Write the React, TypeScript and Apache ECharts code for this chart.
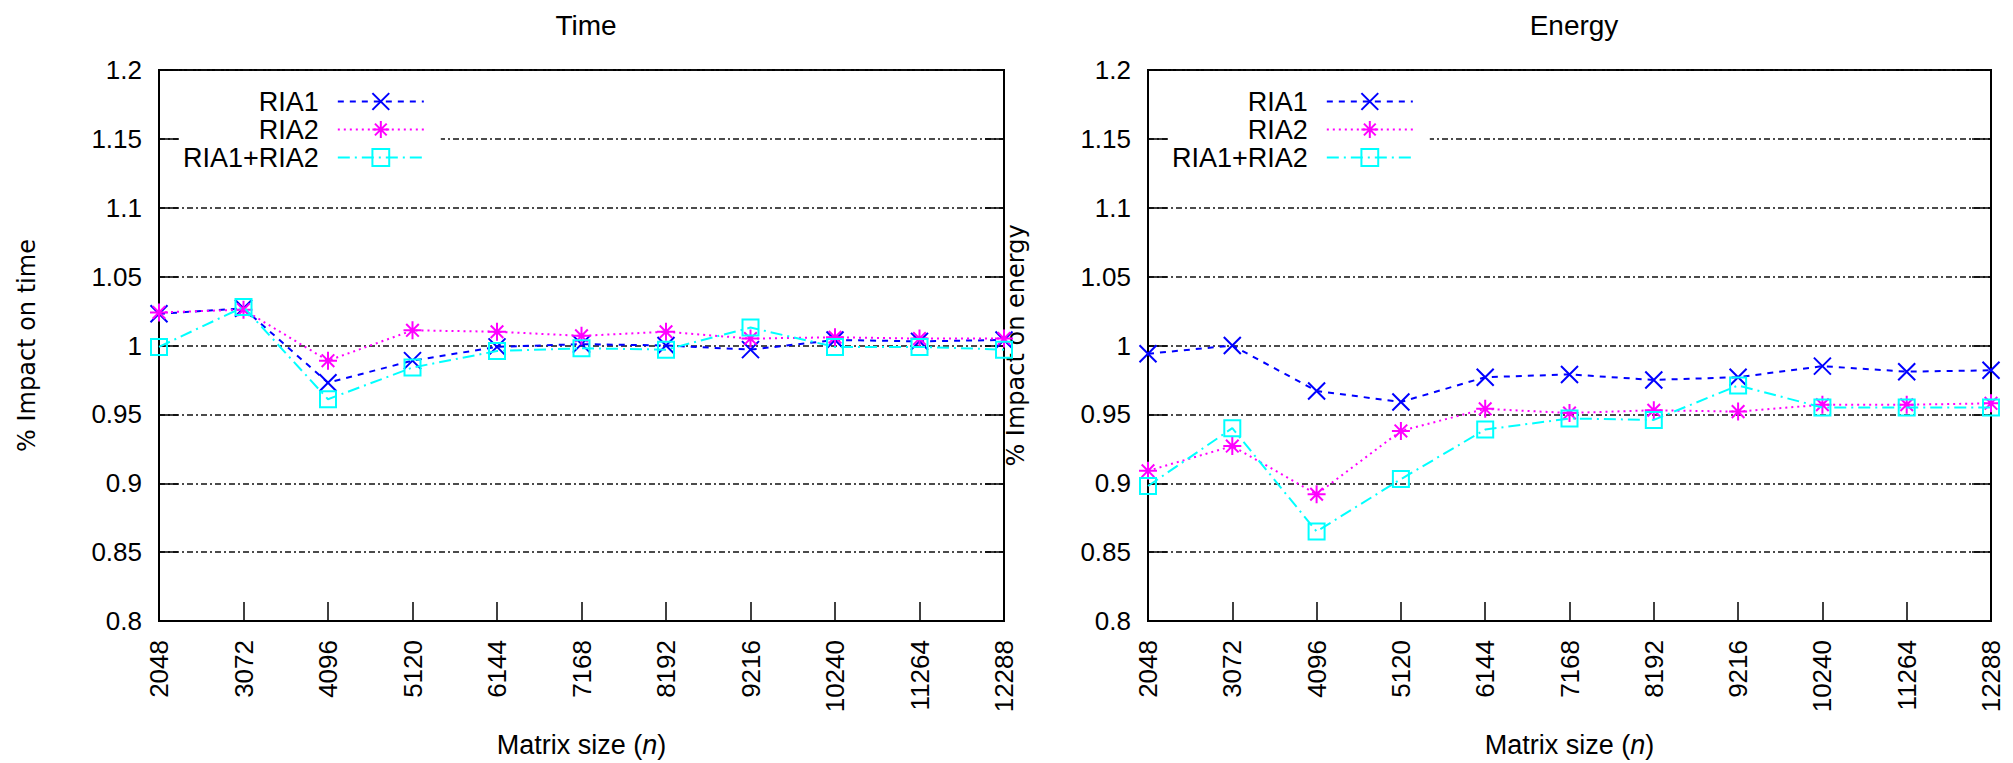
import React, { useEffect, useRef } from 'react';
import * as echarts from 'echarts';

const categories = ['2048', '3072', '4096', '5120', '6144', '7168', '8192', '9216', '10240', '11264', '12288'];
const seriesNames = ['RIA1', 'RIA2', 'RIA1+RIA2'];

const timeRIA1 = [1.023, 1.027, 0.973, 0.989, 0.999, 1.001, 1.0, 0.997, 1.004, 1.003, 1.004];
const timeRIA2 = [1.024, 1.026, 0.989, 1.011, 1.010, 1.007, 1.010, 1.005, 1.006, 1.005, 1.005];
const timeBoth = [0.999, 1.028, 0.961, 0.984, 0.996, 0.998, 0.997, 1.013, 0.999, 0.999, 0.997];

const energyRIA1 = [0.994, 1.0, 0.967, 0.959, 0.977, 0.979, 0.975, 0.977, 0.985, 0.981, 0.982];
const energyRIA2 = [0.909, 0.927, 0.892, 0.938, 0.954, 0.951, 0.953, 0.952, 0.957, 0.957, 0.958];
const energyBoth = [0.898, 0.940, 0.865, 0.903, 0.939, 0.947, 0.946, 0.971, 0.955, 0.955, 0.955];

const Y_MIN = 0.8;
const Y_MAX = 1.2;
const Y_STEP = 0.05;

const COLORS = ['#0000ff', '#ff00ff', '#00ffff'];
const DASHES: number[][] = [[6, 6], [2, 4], [12, 5, 2, 5]];
const SYMBOLS = [
  'path://M0,0L10,10M10,0L0,10',
  'path://M5,0L5,10M0,5L10,5M1.5,1.5L8.5,8.5M8.5,1.5L1.5,8.5',
  'path://M0,0L10,0L10,10L0,10Z',
];
const SYMBOL_SIZES = [17, 18, 16];

const TICK_FONT = 'Liberation Sans';

function makeSeries(values: number[][], axisIdx: number) {
  return values.map((vals, i) => ({
    type: 'line',
    name: seriesNames[i],
    xAxisIndex: axisIdx,
    yAxisIndex: axisIdx * 2,
    data: vals,
    symbol: SYMBOLS[i],
    symbolSize: SYMBOL_SIZES[i],
    showAllSymbol: true,
    color: COLORS[i],
    lineStyle: { color: COLORS[i], width: 2, type: DASHES[i] },
    itemStyle: { color: 'rgba(0,0,0,0)', borderColor: COLORS[i], borderWidth: 2 },
    z: 3 + i,
  }));
}

function xAxisFor(gridIndex: number) {
  return {
    type: 'category',
    gridIndex,
    data: categories,
    boundaryGap: false,
    axisLine: { show: true, lineStyle: { color: '#000', width: 2 } },
    axisTick: { show: true, inside: true, length: 19, interval: 0, lineStyle: { color: '#000', width: 1.5 } },
    axisLabel: { rotate: 90, margin: 19, interval: 0, fontSize: 26, fontFamily: TICK_FONT, color: '#000' },
    splitLine: { show: false },
    name: 'Matrix size ({i|n})',
    nameLocation: 'middle',
    nameGap: 110,
    nameTextStyle: {
      fontSize: 27,
      fontFamily: TICK_FONT,
      color: '#000',
      rich: { i: { fontSize: 27, fontFamily: TICK_FONT, fontStyle: 'italic', color: '#000' } },
    },
  };
}

function yAxesFor(gridIndex: number, name: string) {
  return [
    {
      type: 'value',
      gridIndex,
      min: Y_MIN,
      max: Y_MAX,
      interval: Y_STEP,
      position: 'left',
      axisLine: { show: true, lineStyle: { color: '#000', width: 2 } },
      axisTick: { show: true, inside: true, length: 19, lineStyle: { color: '#000', width: 1.5 } },
      axisLabel: { margin: 17, fontSize: 26, fontFamily: TICK_FONT, color: '#000' },
      splitLine: { show: true, lineStyle: { color: '#111', width: 1.5, type: [6, 3, 2, 3] } },
      name,
      nameLocation: 'middle',
      nameRotate: 90,
      nameGap: 120,
      nameTextStyle: { fontSize: 24, fontFamily: 'DejaVu Sans', color: '#000' },
    },
    {
      type: 'value',
      gridIndex,
      min: Y_MIN,
      max: Y_MAX,
      interval: Y_STEP,
      position: 'right',
      axisLine: { show: true, lineStyle: { color: '#000', width: 2 } },
      axisTick: { show: true, inside: true, length: 19, lineStyle: { color: '#000', width: 1.5 } },
      axisLabel: { show: false },
      splitLine: { show: false },
    },
  ];
}

function legendFor(left: number) {
  return {
    orient: 'vertical',
    align: 'right',
    left,
    top: 88,
    itemWidth: 86,
    itemHeight: 21,
    itemGap: 1,
    padding: [0, 16, 0, 3],
    backgroundColor: '#fff',
    selectedMode: false,
    textStyle: { fontSize: 27, fontFamily: TICK_FONT, color: '#000', padding: [0, 14, 0, 0] },
    data: seriesNames.map((n, i) => ({
      name: n,
      itemStyle: { color: 'rgba(0,0,0,0)', borderColor: COLORS[i], borderWidth: 2 },
      lineStyle: { color: COLORS[i], width: 2, type: DASHES[i] },
    })),
  };
}

export default function App() {
  const ref = useRef<HTMLDivElement>(null);
  useEffect(() => {
    if (!ref.current) return;
    const chart = echarts.init(ref.current, null, { renderer: 'svg' });
    const titleStyle = { fontSize: 28, fontFamily: TICK_FONT, fontWeight: 'normal', color: '#000' };
    chart.setOption({
      animation: false,
      backgroundColor: '#fff',
      title: [
        { text: 'Time', left: 581, top: 6, textAlign: 'center', textStyle: titleStyle },
        { text: 'Energy', left: 1569, top: 6, textAlign: 'center', textStyle: titleStyle },
      ],
      grid: [
        { left: 159, top: 70, width: 845, height: 553, show: true, borderColor: '#000', borderWidth: 2, backgroundColor: 'transparent' },
        { left: 1148, top: 70, width: 843, height: 553, show: true, borderColor: '#000', borderWidth: 2, backgroundColor: 'transparent' },
      ],
      legend: [legendFor(180), legendFor(1169)],
      xAxis: [xAxisFor(0), xAxisFor(1)],
      yAxis: [...yAxesFor(0, '% Impact on time'), ...yAxesFor(1, '% Impact on energy')],
      series: [
        ...makeSeries([timeRIA1, timeRIA2, timeBoth], 0),
        ...makeSeries([energyRIA1, energyRIA2, energyBoth], 1),
      ],
    });
    return () => chart.dispose();
  }, []);
  return (
    <div
      ref={ref}
      style={{ position: 'fixed', left: 0, top: 0, width: 2013, height: 763, background: '#fff' }}
    />
  );
}
